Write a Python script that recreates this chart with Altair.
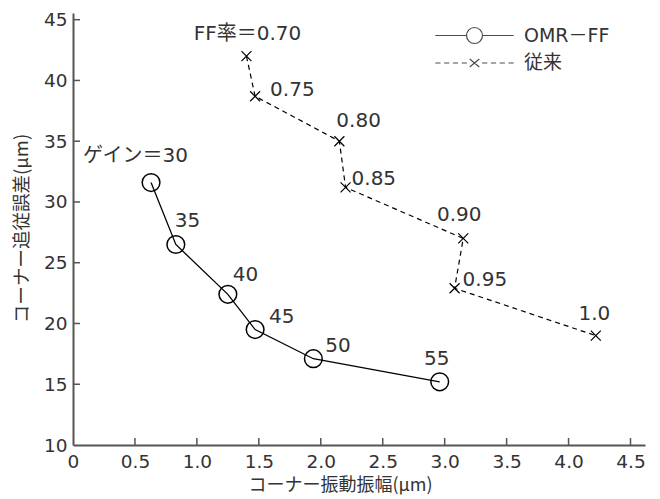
import altair as alt
import pandas as pd

# ---------------- data ----------------
series_names = ["OMR－FF", "従来"]

omr_labels = ["ゲイン＝30", "35", "40", "45", "50", "55"]
omr_x = [0.63, 0.83, 1.25, 1.47, 1.94, 2.96]
omr_y = [31.6, 26.5, 22.4, 19.5, 17.1, 15.2]

conv_labels = ["FF率＝0.70", "0.75", "0.80", "0.85", "0.90", "0.95", "1.0"]
conv_x = [1.40, 1.47, 2.15, 2.20, 3.15, 3.08, 4.22]
conv_y = [42.0, 38.7, 35.0, 31.2, 27.0, 22.9, 19.0]

x_tick_values = [0, 0.5, 1.0, 1.5, 2.0, 2.5, 3.0, 3.5, 4.0, 4.5]
y_tick_values = [10, 15, 20, 25, 30, 35, 40, 45]

x_title = "コーナー振動振幅(μm)"
y_title = "コーナー追従誤差(μm)"

# ---------------- styles (label offsets in px) ----------------
omr_dx = [37, -1, 5, 14, 12, -3]
omr_dy = [-27, -23, -19, -13, -13, -23]
omr_align = ["right", "left", "left", "left", "left", "center"]
conv_dx = [1, 15, -3, 6, -4, 8, -1.5]
conv_dy = [-22, -6, -20, -8, -23, -8, -22]
conv_align = ["center", "left", "left", "left", "center", "left", "center"]

W, H = 572, 432
NUM_FONT = "DejaVu Sans, Noto Sans CJK JP"
JP_FONT = "Noto Sans CJK JP"
TXT = "#333333"
AXC = "#555555"

omr_df = pd.DataFrame({"i": range(len(omr_x)), "x": omr_x, "y": omr_y, "label": omr_labels,
                       "dx": omr_dx, "dy": omr_dy, "align": omr_align})
conv_df = pd.DataFrame({"i": range(len(conv_x)), "x": conv_x, "y": conv_y, "label": conv_labels,
                        "dx": conv_dx, "dy": conv_dy, "align": conv_align})

xs = alt.Scale(domain=[0, 4.617], nice=False, zero=False)
ys = alt.Scale(domain=[10, 45.55], nice=False, zero=False)

x_axis = alt.Axis(values=x_tick_values, grid=False, ticks=False, tickSize=0,
                  domainColor=AXC, domainWidth=2,
                  labelExpr="datum.value == 0 ? '0' : format(datum.value, '.1f')",
                  labelFont=NUM_FONT, labelFontSize=18.5, labelColor=TXT, labelPadding=7,
                  labelFlush=False, labelOverlap=False,
                  title=x_title, titleFont=JP_FONT, titleFontSize=18, titleFontWeight="normal",
                  titleColor=TXT, titleX=267, titleY=40, titleBaseline="middle", titleAnchor="start",
                  titleAlign="center")
y_axis = alt.Axis(values=y_tick_values, grid=False, ticks=False, tickSize=0,
                  domainColor=AXC, domainWidth=2, format="d",
                  labelFont=NUM_FONT, labelFontSize=18.5, labelColor=TXT, labelPadding=6,
                  labelFlush=False, labelOverlap=False,
                  title=y_title, titleFont=JP_FONT, titleFontSize=18.5, titleFontWeight="normal",
                  titleColor=TXT, titleX=-52, titleY=215, titleBaseline="middle", titleAnchor="start",
                  titleAlign="center", titleAngle=-90)

# OMR-FF line + circles
omr_line = alt.Chart(omr_df).mark_line(color="black", strokeWidth=1.3).encode(
    x=alt.X("x:Q", scale=xs, axis=x_axis),
    y=alt.Y("y:Q", scale=ys, axis=y_axis),
    order="i:Q",
)
omr_pts = alt.Chart(omr_df).mark_point(shape="circle", size=314, filled=False,
                                       color="black", strokeWidth=1.5, opacity=1).encode(
    x=alt.X("x:Q", scale=xs), y=alt.Y("y:Q", scale=ys))

# conventional dashed line + x markers
XPATH = "M-1,-1L1,1M-1,1L1,-1"
conv_line = alt.Chart(conv_df).mark_line(color="black", strokeWidth=1.2, strokeDash=[5, 4]).encode(
    x=alt.X("x:Q", scale=xs), y=alt.Y("y:Q", scale=ys), order="i:Q")
conv_pts = alt.Chart(conv_df).mark_point(shape=XPATH, size=100, filled=False,
                                         color="black", strokeWidth=1.2, opacity=1).encode(
    x=alt.X("x:Q", scale=xs), y=alt.Y("y:Q", scale=ys))

# point labels
def labels(df):
    return alt.Chart(df).mark_text(
        font=NUM_FONT, fontSize=20, color=TXT, baseline="middle",
        dx=alt.expr("datum.dx"), dy=alt.expr("datum.dy"), align=alt.expr("datum.align"),
    ).encode(x=alt.X("x:Q", scale=xs), y=alt.Y("y:Q", scale=ys), text="label:N")

# inward axis ticks
xt = alt.Chart(pd.DataFrame({"v": [v for v in x_tick_values if v > 0]})).mark_rule(
    color=AXC, strokeWidth=1.5).encode(x=alt.X("v:Q", scale=xs), y=alt.value(H), y2=alt.value(H - 7))
yt = alt.Chart(pd.DataFrame({"v": [v for v in y_tick_values if v > 10]})).mark_rule(
    color=AXC, strokeWidth=1.5).encode(y=alt.Y("v:Q", scale=ys), x=alt.value(0), x2=alt.value(7))

# legend (combined line+marker symbols)
OMR_SYM = "M-4.9,0H-1M1,0H4.9M1,0A1,1,0,1,1,-1,0A1,1,0,1,1,1,0"
CONV_SYM = ("M-4.9,0H-4.25M-3.8,0H-3.15M-2.7,0H-2.05M-1.6,0H-0.95"
            "M-0.6,-0.5L0.6,0.5M-0.6,0.5L0.6,-0.5"
            "M0.95,0H1.6M2.05,0H2.7M3.15,0H3.8M4.25,0H4.9")
leg = alt.Chart(pd.DataFrame({"series": series_names})).transform_filter("false").mark_point(
    filled=False, color="black", strokeWidth=1.2).encode(
    shape=alt.Shape("series:N", scale=alt.Scale(domain=series_names, range=[OMR_SYM, CONV_SYM]),
                    legend=alt.Legend(title=None, orient="none", legendX=392, legendY=13,
                                      symbolSize=256, symbolStrokeColor="black",
                                      symbolFillColor="transparent", symbolStrokeWidth=1.2,
                                      labelFont=NUM_FONT, labelFontSize=19, labelColor=TXT,
                                      labelOffset=40, rowPadding=7.5)))

chart = alt.layer(xt, yt, omr_line, conv_line, omr_pts, conv_pts,
                  labels(omr_df), labels(conv_df), leg).properties(
    width=W, height=H,
    autosize=alt.AutoSizeParams(type="none"),
    padding={"left": 65, "top": 5, "right": 7, "bottom": 56},
).configure_view(stroke=None)

chart.save("out.html", embed_options={"renderer": "svg", "actions": False})
